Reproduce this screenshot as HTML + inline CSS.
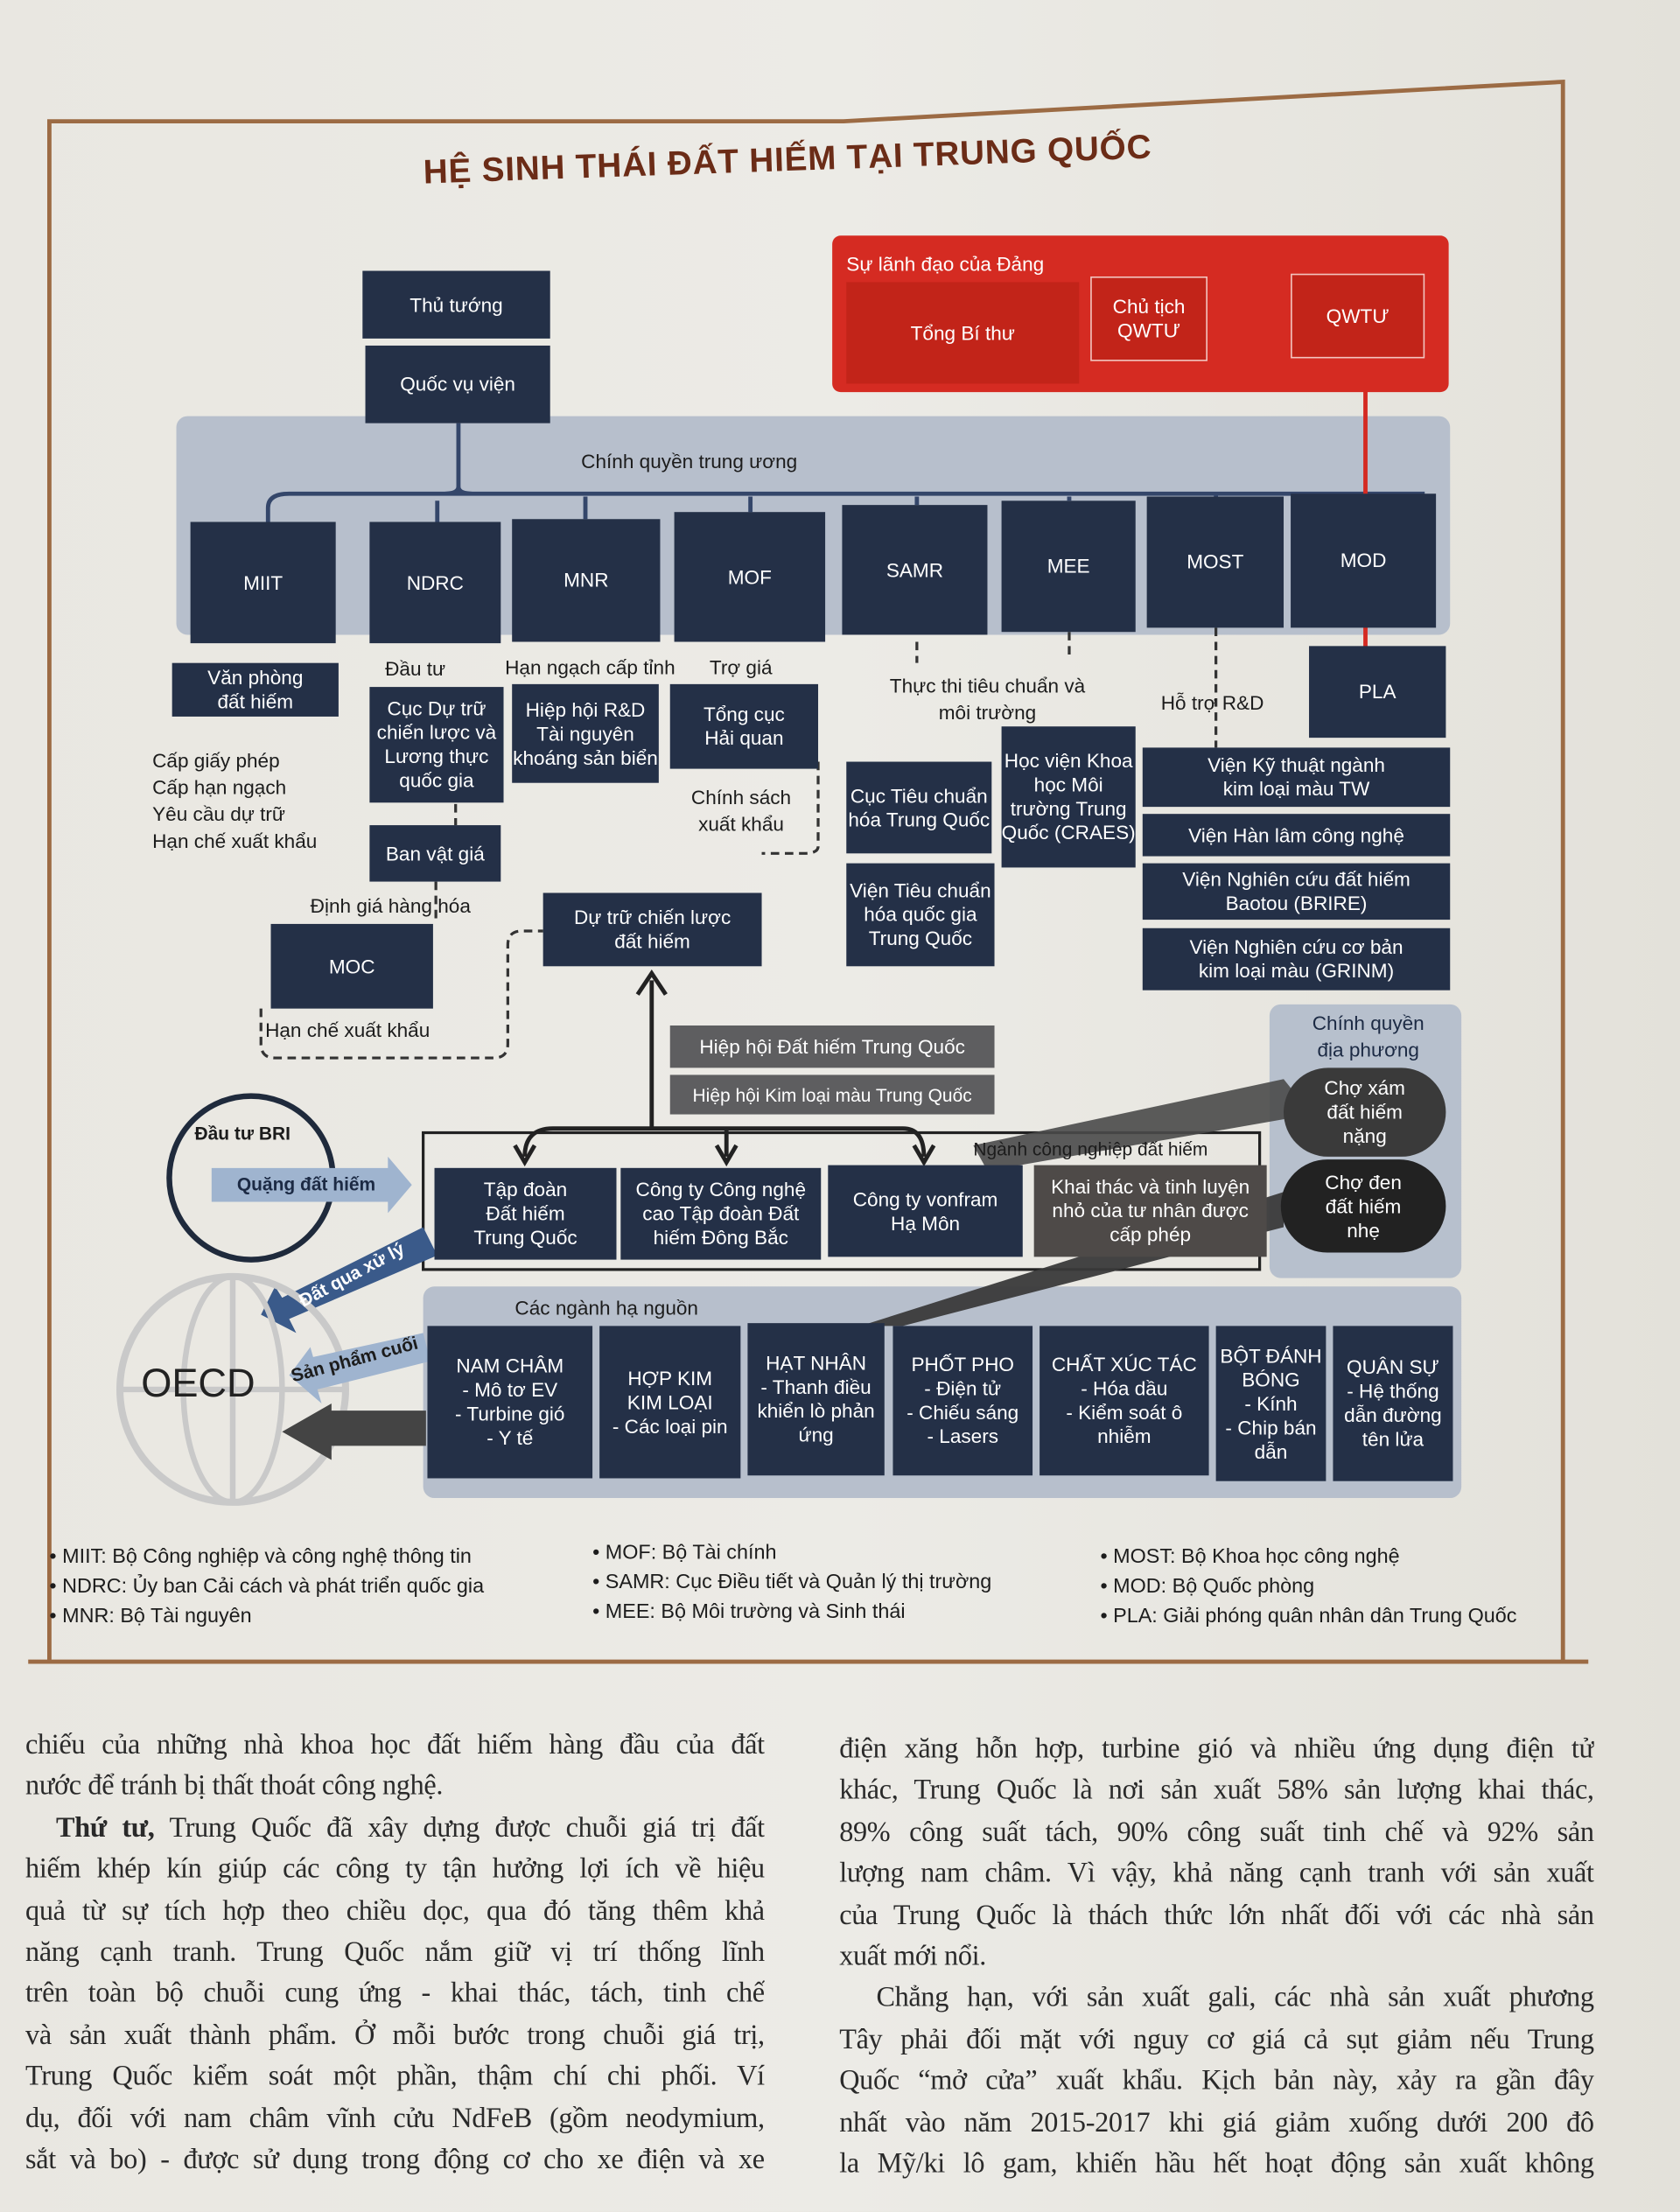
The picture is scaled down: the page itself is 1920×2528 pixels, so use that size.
<!DOCTYPE html>
<html><head><meta charset="utf-8"><style>
html,body{margin:0;padding:0;}
body{width:1920px;height:2527px;overflow:hidden;background:#e6e3dc;}
#s{position:absolute;left:0;top:0;width:1191px;height:1568px;transform:scale(1.6121);transform-origin:0 0;font-family:"Liberation Sans","DejaVu Sans",sans-serif;background:linear-gradient(90deg,#e9e7e1,#ecebe6 50%,#e3e1da);}
.a{position:absolute;box-sizing:border-box;}
.n{position:absolute;box-sizing:border-box;background:#243047;color:#fff;display:flex;align-items:center;justify-content:center;text-align:center;font-size:14px;line-height:17px;}
.g{background:#5e5e60;}
.t{position:absolute;font-size:14px;color:#1c1c1c;line-height:19px;}
.d{font-weight:bold;font-size:13px;line-height:17px;}
.body{position:absolute;font-family:"Liberation Serif",serif;font-size:20px;letter-spacing:-0.2px;line-height:29.4px;color:#2a2a2a;}
.body div{text-align:justify;text-align-last:justify;height:29.4px;overflow:hidden;}
.body div.l{text-align-last:left;}
</style></head><body><div id="s">
<svg class="a" style="left:0;top:0" width="1191" height="1568">
<polyline points="35,1178 35,86 598,86 1108,58 1108,1178" fill="none" stroke="#9c6b44" stroke-width="3"/>
<line x1="20" y1="1178" x2="1126" y2="1178" stroke="#9c6b44" stroke-width="3"/>
<rect x="125" y="295" width="903" height="155" rx="8" fill="#b7bfcc"/>
<rect x="300" y="912" width="736" height="150" rx="8" fill="#b7bfcc"/>
<rect x="900" y="712" width="136" height="194" rx="8" fill="#b7c0cd"/>
<path d="M325,300 V345 M190,370 V360 Q190,350 205,350 H1010 M325,345 Q325,350 315,350 M325,345 Q325,350 335,350 M310,372 V355 M415,368 V352 M532,363 V352 M650,358 V352 M758,355 V352 M862,352 V350" stroke="#34466a" stroke-width="3" fill="none"/>
<line x1="968" y1="255" x2="968" y2="460" stroke="#d42a22" stroke-width="3"/>
<path d="M462,800 V695" stroke="#222" stroke-width="3"/><path d="M452,705 L462,690 L472,705" fill="none" stroke="#222" stroke-width="3"/>
<path d="M372,820 Q372,800 392,800 H640 Q655,800 655,820 M515,800 V820" stroke="#222" stroke-width="3" fill="none"/>
<path d="M365,812 L372,824 L379,812 M508,812 L515,824 L522,812 M648,812 L655,824 L662,812" stroke="#222" stroke-width="3" fill="none"/>
<rect x="300" y="803" width="593" height="97" fill="none" stroke="#222" stroke-width="2"/>
<path d="M185,715 V740 Q185,750 195,750 H350 Q360,750 360,740 V670 Q360,660 370,660 H385 M580,540 V600 Q580,605 570,605 H540 M323,570 V585 M309,625 V655 M650,455 V470 M758,448 V468 M862,445 V530" stroke="#333" stroke-width="2" stroke-dasharray="6,4" fill="none"/>
<polygon points="910,765 930,790 700,830 690,812" fill="#4a4a4a" opacity=".9"/>
<polygon points="910,845 910,870 640,940 610,940" fill="#3a3a3a" opacity=".95"/>
<circle cx="178" cy="835" r="58" fill="none" stroke="#1f2a3c" stroke-width="4"/>
<polygon points="150,828 275,828 275,820 292,840 275,860 275,852 150,852" fill="#9fb4cf"/>
<polygon points="300,870 310,890 205,935 210,945 185,932 195,912 200,920" fill="#3a5a8a"/>
<circle cx="165" cy="985" r="80" fill="none" stroke="#c9c9c9" stroke-width="5"/>
<ellipse cx="165" cy="985" rx="35" ry="80" fill="none" stroke="#c9c9c9" stroke-width="4"/>
<line x1="85" y1="985" x2="245" y2="985" stroke="#c9c9c9" stroke-width="4"/>
<line x1="165" y1="905" x2="165" y2="1065" stroke="#c9c9c9" stroke-width="4"/>
<polygon points="300,945 305,965 225,985 228,995 205,975 220,955 222,962" fill="#9fb4cf"/>
<polygon points="302,1000 302,1025 235,1025 235,1035 200,1015 235,995 235,1000" fill="#444"/>
</svg>
<div class="a" style="left:300px;top:100px;font-weight:bold;font-size:24px;color:#6b2c17;transform:rotate(-2deg);letter-spacing:.5px">HỆ SINH THÁI ĐẤT HIẾM TẠI TRUNG QUỐC</div>
<div class="a" style="left:590px;top:167px;width:437px;height:111px;background:#d52b22;border-radius:6px"></div>
<div class="t" style="left:600px;top:178px;color:#fff">Sự lãnh đạo của Đảng</div>
<div class="n" style="left:600px;top:200px;width:165px;height:72px;background:#c22419">Tổng Bí thư</div>
<div class="n" style="left:773px;top:196px;width:83px;height:60px;background:#c22419;border:1.5px solid #f3c5c0">Chủ tịch<br>QWTƯ</div>
<div class="n" style="left:915px;top:194px;width:95px;height:60px;background:#c22419;border:1.5px solid #f3c5c0">QWTƯ</div>
<div class="n" style="left:257px;top:192px;width:133px;height:48px">Thủ tướng</div>
<div class="n" style="left:259px;top:245px;width:131px;height:55px">Quốc vụ viện</div>
<div class="t" style="left:412px;top:318px">Chính quyền trung ương</div>
<div class="n" style="left:135px;top:370px;width:103px;height:86px">MIIT</div>
<div class="n" style="left:262px;top:370px;width:93px;height:86px">NDRC</div>
<div class="n" style="left:363px;top:368px;width:105px;height:87px">MNR</div>
<div class="n" style="left:478px;top:363px;width:107px;height:92px">MOF</div>
<div class="n" style="left:597px;top:358px;width:103px;height:92px">SAMR</div>
<div class="n" style="left:710px;top:355px;width:95px;height:93px">MEE</div>
<div class="n" style="left:813px;top:352px;width:97px;height:93px">MOST</div>
<div class="n" style="left:915px;top:350px;width:103px;height:95px">MOD</div>
<div class="n" style="left:928px;top:458px;width:97px;height:65px">PLA</div>
<div class="n" style="left:122px;top:470px;width:118px;height:38px">Văn phòng<br>đất hiếm</div>
<div class="t" style="left:108px;top:530px">Cấp giấy phép<br>Cấp hạn ngạch<br>Yêu cầu dự trữ<br>Hạn chế xuất khẩu</div>
<div class="t" style="left:273px;top:465px">Đầu tư</div>
<div class="t" style="left:358px;top:464px">Hạn ngạch cấp tỉnh</div>
<div class="t" style="left:503px;top:464px">Trợ giá</div>
<div class="n" style="left:262px;top:487px;width:95px;height:82px">Cục Dự trữ chiến lược và Lương thực quốc gia</div>
<div class="n" style="left:363px;top:485px;width:104px;height:70px">Hiệp hội R&amp;D Tài nguyên khoáng sản biển</div>
<div class="n" style="left:475px;top:485px;width:105px;height:60px">Tổng cục<br>Hải quan</div>
<div class="t" style="left:490px;top:556px;text-align:center">Chính sách<br>xuất khẩu</div>
<div class="n" style="left:262px;top:585px;width:93px;height:40px">Ban vật giá</div>
<div class="t" style="left:220px;top:633px">Định giá hàng hóa</div>
<div class="n" style="left:192px;top:655px;width:115px;height:60px">MOC</div>
<div class="t" style="left:188px;top:721px">Hạn chế xuất khẩu</div>
<div class="n" style="left:385px;top:633px;width:155px;height:52px">Dự trữ chiến lược<br>đất hiếm</div>
<div class="t" style="left:620px;top:477px;text-align:center;width:160px">Thực thi tiêu chuẩn và<br>môi trường</div>
<div class="n" style="left:600px;top:540px;width:103px;height:65px">Cục Tiêu chuẩn hóa Trung Quốc</div>
<div class="n" style="left:600px;top:612px;width:105px;height:73px">Viện Tiêu chuẩn hóa quốc gia Trung Quốc</div>
<div class="n" style="left:710px;top:515px;width:95px;height:100px">Học viện Khoa học Môi trường Trung Quốc (CRAES)</div>
<div class="t" style="left:823px;top:489px">Hỗ trợ R&amp;D</div>
<div class="n" style="left:810px;top:530px;width:218px;height:42px">Viện Kỹ thuật ngành<br>kim loại màu TW</div>
<div class="n" style="left:810px;top:577px;width:218px;height:30px">Viện Hàn lâm công nghệ</div>
<div class="n" style="left:810px;top:612px;width:218px;height:40px">Viện Nghiên cứu đất hiếm<br>Baotou (BRIRE)</div>
<div class="n" style="left:810px;top:658px;width:218px;height:44px">Viện Nghiên cứu cơ bản<br>kim loại màu (GRINM)</div>
<div class="t" style="left:905px;top:716px;text-align:center;width:130px;color:#1c2a44">Chính quyền<br>địa phương</div>
<div class="n" style="left:910px;top:757px;width:115px;height:63px;border-radius:32px;background:#3a3a3a">Chợ xám<br>đất hiếm<br>nặng</div>
<div class="n" style="left:908px;top:822px;width:117px;height:66px;border-radius:33px;background:#222">Chợ đen<br>đất hiếm<br>nhẹ</div>
<div class="n g" style="left:475px;top:727px;width:230px;height:30px">Hiệp hội Đất hiếm Trung Quốc</div>
<div class="n g" style="left:475px;top:762px;width:230px;height:28px;font-size:13px">Hiệp hội Kim loại màu Trung Quốc</div>
<div class="t" style="left:690px;top:805px;font-size:13px">Ngành công nghiệp đất hiếm</div>
<div class="n" style="left:308px;top:828px;width:129px;height:65px">Tập đoàn<br>Đất hiếm<br>Trung Quốc</div>
<div class="n" style="left:440px;top:828px;width:142px;height:65px">Công ty Công nghệ cao Tập đoàn Đất hiếm Đông Bắc</div>
<div class="n" style="left:587px;top:826px;width:138px;height:65px">Công ty vonfram<br>Hạ Môn</div>
<div class="n g" style="left:733px;top:826px;width:165px;height:65px;background:#4e4a48">Khai thác và tinh luyện nhỏ của tư nhân được cấp phép</div>
<div class="t d" style="left:138px;top:795px">Đầu tư BRI</div>
<div class="t d" style="left:168px;top:831px;color:#1c2a44">Quặng đất hiếm</div>
<div class="t d" style="left:208px;top:895px;color:#fff;transform:rotate(-28deg)">Đất qua xử lý</div>
<div class="t d" style="left:205px;top:955px;transform:rotate(-15deg)">Sản phẩm cuối</div>
<div class="a" style="left:100px;top:965px;font-size:28px;color:#222">OECD</div>
<div class="t" style="left:365px;top:918px">Các ngành hạ nguồn</div>
<div class="n" style="left:303px;top:940px;width:117px;height:108px">NAM CHÂM<br>- Mô tơ EV<br>- Turbine gió<br>- Y tế</div>
<div class="n" style="left:425px;top:940px;width:100px;height:108px">HỢP KIM<br>KIM LOẠI<br>- Các loại pin</div>
<div class="n" style="left:530px;top:938px;width:97px;height:108px">HẠT NHÂN<br>- Thanh điều khiển lò phản ứng</div>
<div class="n" style="left:633px;top:940px;width:99px;height:106px">PHỐT PHO<br>- Điện tử<br>- Chiếu sáng<br>- Lasers</div>
<div class="n" style="left:737px;top:940px;width:120px;height:106px">CHẤT XÚC TÁC<br>- Hóa dầu<br>- Kiểm soát ô nhiễm</div>
<div class="n" style="left:862px;top:940px;width:78px;height:110px">BỘT ĐÁNH BÓNG<br>- Kính<br>- Chip bán dẫn</div>
<div class="n" style="left:945px;top:940px;width:85px;height:110px">QUÂN SỰ<br>- Hệ thống dẫn đường tên lửa</div>
<div class="t" style="left:35px;top:1094px;font-size:14.5px;line-height:21px">• MIIT: Bộ Công nghiệp và công nghệ thông tin<br>• NDRC: Ủy ban Cải cách và phát triển quốc gia<br>• MNR: Bộ Tài nguyên</div>
<div class="t" style="left:420px;top:1091px;font-size:14.5px;line-height:21px">• MOF: Bộ Tài chính<br>• SAMR: Cục Điều tiết và Quản lý thị trường<br>• MEE: Bộ Môi trường và Sinh thái</div>
<div class="t" style="left:780px;top:1094px;font-size:14.5px;line-height:21px">• MOST: Bộ Khoa học công nghệ<br>• MOD: Bộ Quốc phòng<br>• PLA: Giải phóng quân nhân dân Trung Quốc</div>
<div class="body" style="left:18px;top:1223px;width:524px">
<div>chiếu của những nhà khoa học đất hiếm hàng đầu của đất</div>
<div class="l">nước để tránh bị thất thoát công nghệ.</div>
<div>&nbsp;&nbsp;<b>Thứ tư,</b> Trung Quốc đã xây dựng được chuỗi giá trị đất</div>
<div>hiếm khép kín giúp các công ty tận hưởng lợi ích về hiệu</div>
<div>quả từ sự tích hợp theo chiều dọc, qua đó tăng thêm khả</div>
<div>năng cạnh tranh. Trung Quốc nắm giữ vị trí thống lĩnh</div>
<div>trên toàn bộ chuỗi cung ứng - khai thác, tách, tinh chế</div>
<div>và sản xuất thành phẩm. Ở mỗi bước trong chuỗi giá trị,</div>
<div>Trung Quốc kiểm soát một phần, thậm chí chi phối. Ví</div>
<div>dụ, đối với nam châm vĩnh cửu NdFeB (gồm neodymium,</div>
<div>sắt và bo) - được sử dụng trong động cơ cho xe điện và xe</div>
</div>
<div class="body" style="left:595px;top:1226px;width:535px">
<div>điện xăng hỗn hợp, turbine gió và nhiều ứng dụng điện tử</div>
<div>khác, Trung Quốc là nơi sản xuất 58% sản lượng khai thác,</div>
<div>89% công suất tách, 90% công suất tinh chế và 92% sản</div>
<div>lượng nam châm. Vì vậy, khả năng cạnh tranh với sản xuất</div>
<div>của Trung Quốc là thách thức lớn nhất đối với các nhà sản</div>
<div class="l">xuất mới nổi.</div>
<div>&nbsp;&nbsp;Chẳng hạn, với sản xuất gali, các nhà sản xuất phương</div>
<div>Tây phải đối mặt với nguy cơ giá cả sụt giảm nếu Trung</div>
<div>Quốc “mở cửa” xuất khẩu. Kịch bản này, xảy ra gần đây</div>
<div>nhất vào năm 2015-2017 khi giá giảm xuống dưới 200 đô</div>
<div>la Mỹ/ki lô gam, khiến hầu hết hoạt động sản xuất không</div>
</div>
</div></body></html>
